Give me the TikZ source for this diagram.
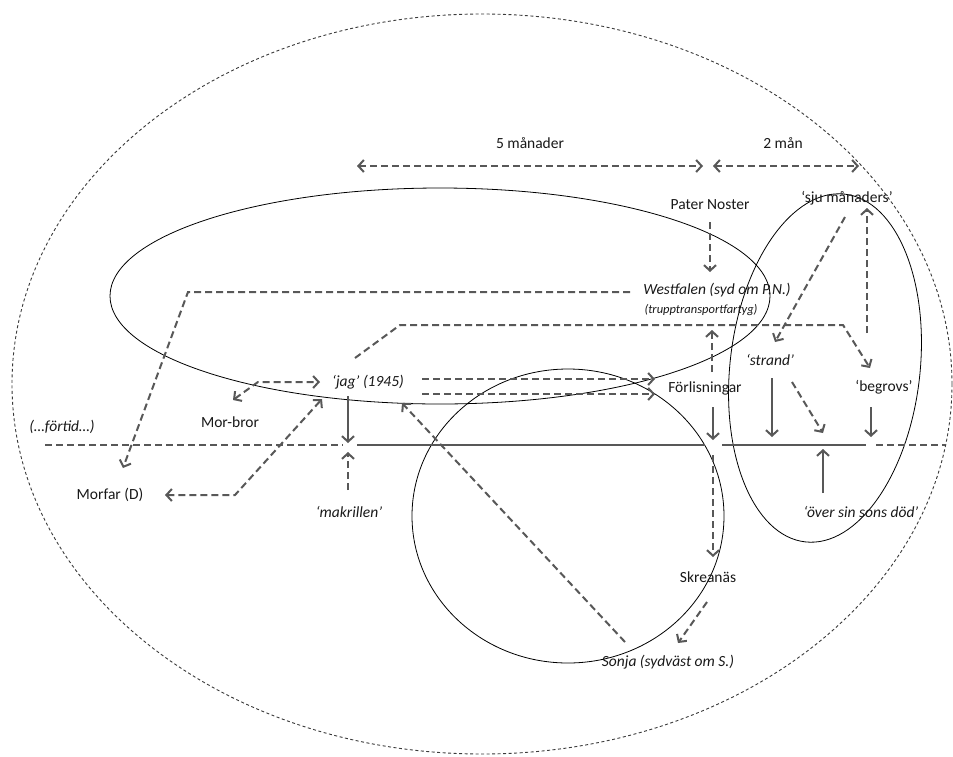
\documentclass[tikz,border=0pt]{standalone}
\usepackage{fontspec}
\setmainfont{Carlito}
\usetikzlibrary{arrows.meta}
\definecolor{ag}{HTML}{585858}
\definecolor{eg}{HTML}{3a3a3a}
\tikzset{mytip/.tip={Straight Barb[length=5.5pt,width=12pt]}}
\begin{document}
\begin{tikzpicture}[x=1pt,y=-1pt,
  lab/.style={inner sep=0pt, font=\fontsize{15.5}{18}\selectfont, text=black!90},
  ilab/.style={inner sep=0pt, font=\fontsize{15.5}{18}\selectfont\itshape, text=black!90},
  slab/.style={inner sep=0pt, font=\fontsize{12.5}{15}\selectfont\itshape, text=black!90},
  dline/.style={draw=ag, line width=2pt, dash pattern=on 7pt off 4pt},
  darr/.style={dline, -{mytip}},
  ddarr/.style={dline, {mytip}-{mytip}},
  sline/.style={draw=ag, line width=2pt},
  sarr/.style={sline, -{mytip}},
  ell/.style={draw=black, line width=0.8pt},
  bigell/.style={draw=eg, line width=0.9pt, dash pattern=on 3pt off 2.5pt}
]
\useasboundingbox[fill=white] (0,0) rectangle (953,756);

% enclosing shapes
\draw[bigell] (482,384) ellipse [x radius=470, y radius=370];
\draw[ell] (440,296) ellipse [x radius=330, y radius=108];
\draw[ell] (568,516) ellipse [x radius=156, y radius=147];
\draw[ell, rotate around={-6.5:(825,368)}] (825,368) ellipse [x radius=95, y radius=175];

% labels
\node[lab] (m5) at (530,143) {5 månader};
\node[lab] (m2) at (783,143) {2 mån};
\node[lab] (pater) at (710,205) {Pater Noster};
\node[lab] (sju) at (847,198) {‘sju månaders’};
\node[ilab] (west) at (717,290) {Westfalen (syd om P.N.)};
\node[slab] (trupp) at (701,310) {(trupptransportfartyg)};
\node[ilab] (jag) at (368,382) {‘jag’ (1945)};
\node[lab] (forl) at (705,388) {Förlisningar};
\node[ilab] (strand) at (770,360) {‘strand’};
\node[lab] (begr) at (884,387) {‘begrovs’};
\node[lab] (morbror) at (230,422) {Mor-bror};
\node[ilab] (fortid) at (62,427) {(…förtid…)};
\node[lab] (morfar) at (110,495) {Morfar (D)};
\node[ilab] (makr) at (349,512) {‘makrillen’};
\node[ilab] (over) at (861,512) {‘över sin sons död’};
\node[lab] (skrea) at (708,577) {Skreanäs};
\node[ilab] (sonja) at (668,662) {Sonja (sydväst om S.)};

% coordinates
\coordinate (a5l) at (357,166); \coordinate (a5r) at (703,166);
\coordinate (a2l) at (713,166); \coordinate (a2r) at (859,166);
\coordinate (tl1) at (45,445); \coordinate (tl2) at (343,445);
\coordinate (tl3) at (357,445); \coordinate (tl4) at (705,445);
\coordinate (tl5) at (722,445); \coordinate (tl6) at (866,445);
\coordinate (tl7) at (876,445); \coordinate (tl8) at (945,445);

% time spans
\draw[ddarr] (a5l) -- (a5r);
\draw[ddarr] (a2l) -- (a2r);

% timeline
\draw[dline] (tl1) -- (tl2);
\draw[sline] (tl3) -- (tl4);
\draw[sline] (tl5) -- (tl6);
\draw[dline] (tl7) -- (tl8);

% Pater Noster -> Westfalen
\draw[darr] (710,222) coordinate (pn1) -- (710,272) coordinate (pn2);

% Westfalen -> Morfar
\draw[darr] (630,292) coordinate (w1) -- (188,292) coordinate (w2) -- (123,468) coordinate (w3);

% jag -> begrovs
\draw[darr] (355,358) coordinate (j1) -- (400,325) coordinate (j2) -- (843,325) coordinate (j3) -- (870,368) coordinate (j4);

% sju -> strand
\draw[darr] (845,217) coordinate (s1) -- (775,342) coordinate (s2);
% up to sju
\draw[darr] (867,333) coordinate (u1) -- (867,208) coordinate (u2);

% Mor-bror <-> jag
\draw[ddarr] (233,400) coordinate (mb1) -- (258,382) coordinate (mb2) -- (320,382) coordinate (mb3);
% Morfar <-> jag
\draw[ddarr] (165,495) coordinate (mf1) -- (235,495) coordinate (mf2) -- (322,399) coordinate (mf3);

% jag -> timeline
\draw[sarr] (348,396) coordinate (jd1) -- (348,443) coordinate (jd2);
% makrillen -> timeline
\draw[darr] (348,490) coordinate (mk1) -- (348,452) coordinate (mk2);

% jag -> Förlisningar
\draw[darr] (422,379) coordinate (f1) -- (655,379) coordinate (f2);
\draw[darr] (422,394) coordinate (f3) -- (655,394) coordinate (f4);

% Förlisningar up / down
\draw[darr] (712,372) coordinate (fu1) -- (712,330) coordinate (fu2);
\draw[sarr] (713,407) coordinate (fd1) -- (713,440) coordinate (fd2);

% strand arrows
\draw[sarr] (772,378) coordinate (st1) -- (772,437) coordinate (st2);
\draw[darr] (792,382) coordinate (st3) -- (823,433) coordinate (st4);

% begrovs
\draw[sarr] (871,407) coordinate (b1) -- (871,437) coordinate (b2);

% över sin sons död
\draw[sarr] (823,493) coordinate (o1) -- (823,449) coordinate (o2);

% to Skreanäs
\draw[darr] (713,455) coordinate (sk1) -- (713,557) coordinate (sk2);
% Skreanäs -> Sonja
\draw[darr] (707,602) coordinate (so1) -- (678,643) coordinate (so2);
% Sonja -> jag
\draw[darr] (625,642) coordinate (sj1) -- (402,403) coordinate (sj2);
\end{tikzpicture}
\end{document}
